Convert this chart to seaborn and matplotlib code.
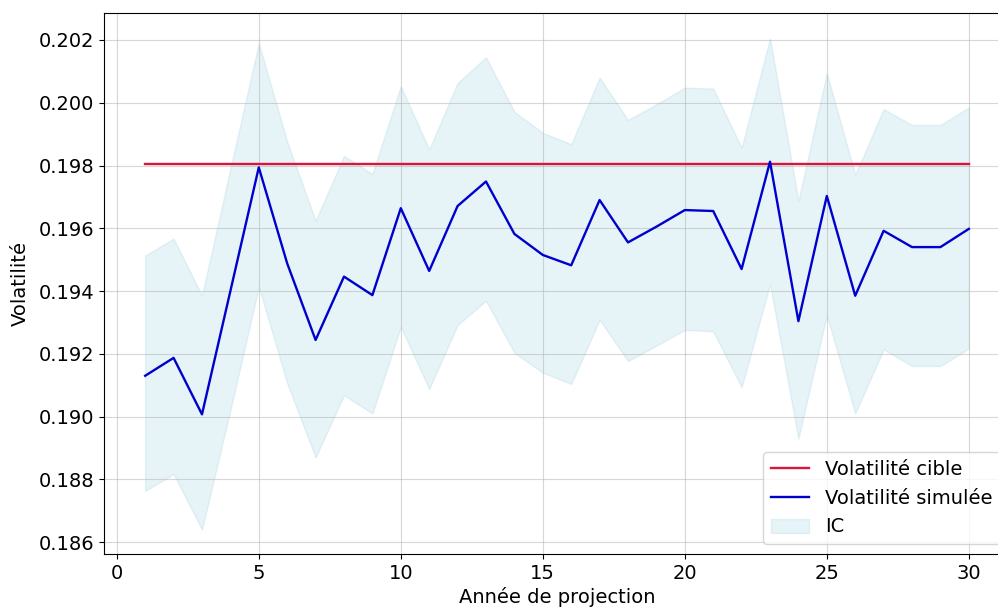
import numpy as np
import pandas as pd
import seaborn as sns
import matplotlib.pyplot as plt

# Data
annees = list(range(1, 31))
vol_cible = 0.19805
vol_simulee = [0.19130, 0.19187, 0.19007, 0.19400, 0.19794, 0.19488, 0.19244, 0.19446, 0.19387, 0.19664,
               0.19464, 0.19671, 0.19749, 0.19582, 0.19515, 0.19482, 0.19690, 0.19555, 0.19605, 0.19658,
               0.19655, 0.19470, 0.19812, 0.19304, 0.19703, 0.19385, 0.19592, 0.19540, 0.19540, 0.19598]
ic_haut = [0.19513, 0.19567, 0.19385, 0.19790, 0.20190, 0.19876, 0.19624, 0.19831, 0.19773, 0.20053,
           0.19851, 0.20063, 0.20145, 0.19971, 0.19904, 0.19868, 0.20080, 0.19945, 0.19995, 0.20048,
           0.20045, 0.19857, 0.20205, 0.19687, 0.20094, 0.19770, 0.19980, 0.19929, 0.19929, 0.19985]
ic_bas = [0.18763, 0.18817, 0.18640, 0.19020, 0.19414, 0.19106, 0.18870, 0.19068, 0.19010, 0.19286,
          0.19088, 0.19292, 0.19369, 0.19203, 0.19140, 0.19104, 0.19308, 0.19177, 0.19226, 0.19276,
          0.19272, 0.19093, 0.19422, 0.18930, 0.19323, 0.19010, 0.19214, 0.19161, 0.19161, 0.19217]

df = pd.DataFrame({"Annee": annees, "Simulee": vol_simulee, "Haut": ic_haut, "Bas": ic_bas})
df["Cible"] = vol_cible

plt.rcParams["font.size"] = 14

fig = plt.figure(figsize=(9.98, 6.08), dpi=100)
ax = fig.add_axes([104 / 998, 54 / 608, 906 / 998, 541 / 608])

sns.lineplot(data=df, x="Annee", y="Cible", color="crimson", linewidth=1.7, label="Volatilité cible", ax=ax)
sns.lineplot(data=df, x="Annee", y="Simulee", color="mediumblue", linewidth=1.7, label="Volatilité simulée", ax=ax)
ax.fill_between(df["Annee"], df["Bas"], df["Haut"], color="lightblue", alpha=0.3, label="IC")

ax.set_ylim(0.18562, 0.20286)
ax.set_xticks([0, 5, 10, 15, 20, 25, 30])
ax.set_xlabel("Année de projection", labelpad=3)
ax.set_ylabel("Volatilité", labelpad=6)
ax.grid(True, alpha=0.5)
ax.legend(loc="lower right")

fig.savefig("out.png", dpi=100)
